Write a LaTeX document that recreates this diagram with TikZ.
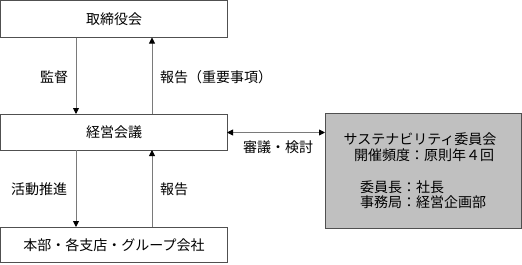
\documentclass[tikz,border=0pt]{standalone}
\usepackage{fontspec}
\setmainfont{Noto Sans CJK JP}
\usetikzlibrary{arrows.meta}
\definecolor{boxline}{HTML}{505050}
\definecolor{arrline}{HTML}{7A7A7A}
\definecolor{graybox}{HTML}{C0C0C0}
\tikzset{
  orgbox/.style={draw=boxline, line width=0.9pt, fill=white},
  committee/.style={draw=boxline, line width=0.9pt, fill=graybox},
  flow/.style={draw=arrline, line width=0.9pt, -{Triangle[length=6pt,width=6pt,color=black]}},
  bothflow/.style={draw=arrline, line width=0.9pt, {Triangle[length=6pt,width=6pt,color=black]}-{Triangle[length=6pt,width=6pt,color=black]}},
  lbl/.style={font=\fontsize{14}{16}\selectfont, inner sep=0pt, text=black}
}
\begin{document}
\begin{tikzpicture}[x=1pt,y=-1pt]
\useasboundingbox (0,0) rectangle (522,265);
% boxes
\draw[orgbox] (0.5,0.5) rectangle (227,37.5);
\draw[orgbox] (0.5,114) rectangle (227,150);
\draw[orgbox] (0.5,227) rectangle (227,262);
\draw[committee] (325,113) rectangle (521,228);
\node[lbl] (board) at (114,19) {取締役会};
\node[lbl] (mgmt) at (114,132) {経営会議};
\node[lbl] (units) at (114,245) {本部・各支店・グループ会社};
\coordinate (bT) at (76,37.5);
\coordinate (mT) at (76,114);
\coordinate (bU) at (152,37.5);
\coordinate (mU) at (152,114);
\coordinate (mB) at (76,150);
\coordinate (uB) at (76,227);
\coordinate (mB2) at (152,150);
\coordinate (uB2) at (152,227);
\coordinate (mR) at (227,132.5);
\coordinate (cL) at (325,132.5);
\draw[flow] (bT) -- (mT);
\draw[flow] (mU) -- (bU);
\draw[flow] (mB) -- (uB);
\draw[flow] (uB2) -- (mB2);
\draw[bothflow] (mR) -- (cL);
% labels
\node[lbl] (l1) at (54,77) {監督};
\node[lbl, anchor=west] (l2) at (160,77) {報告（重要事項）};
\node[lbl] (l3) at (278,147) {審議・検討};
\node[lbl] (l4) at (39,189) {活動推進};
\node[lbl, anchor=west] (l5) at (160,189) {報告};
% committee text
\node[lbl] (c1) at (420,139) {サステナビリティ委員会};
\node[lbl] (c2) at (424,155) {開催頻度：原則年４回};
\node[lbl] (c4) at (423,202) {事務局：経営企画部};
\node[lbl, anchor=west] (c3) at (c4.west |- 0,187) {委員長：社長};
\end{tikzpicture}
\end{document}
